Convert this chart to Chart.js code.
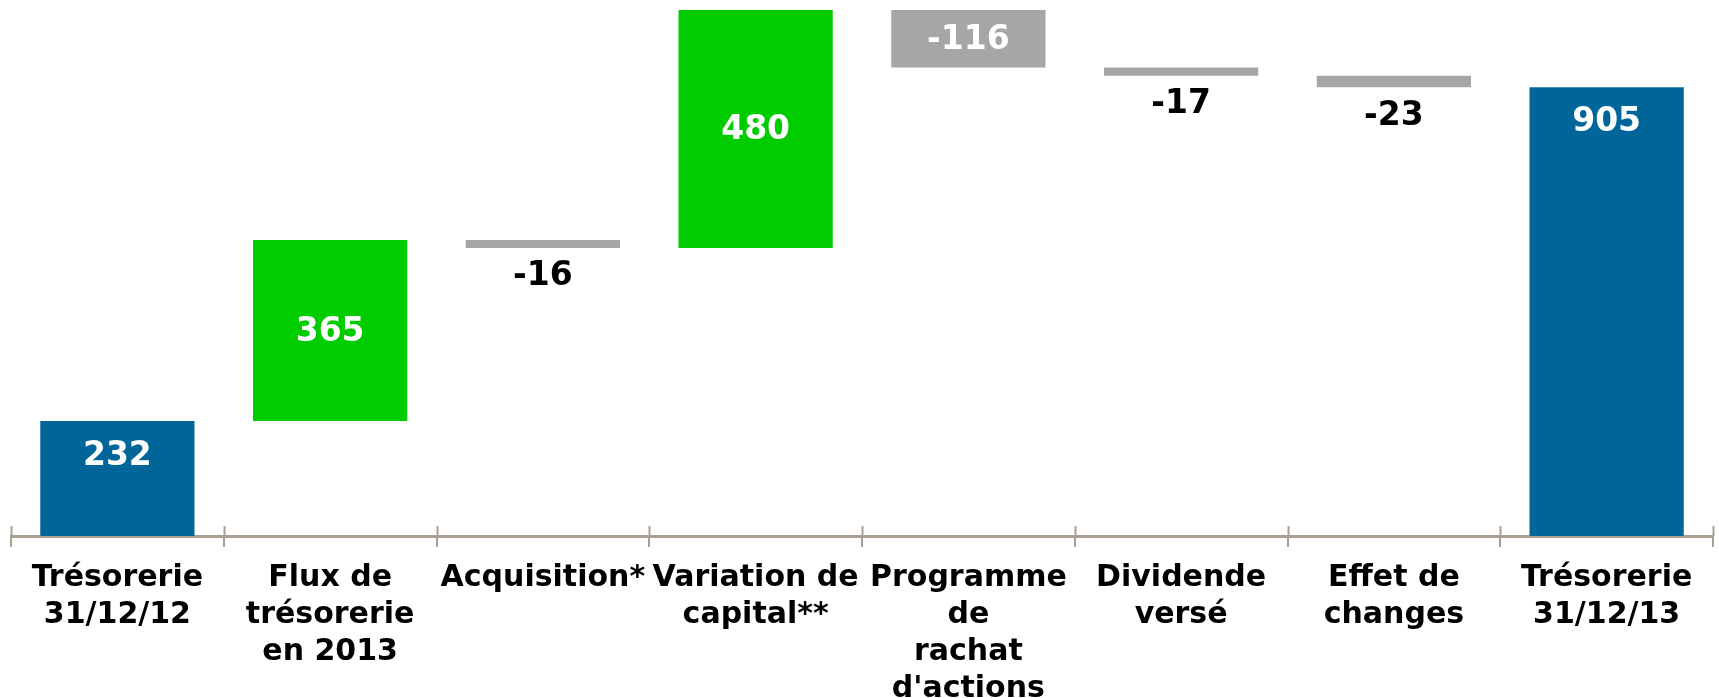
<!DOCTYPE html>
<html>
<head>
<meta charset="utf-8">
<script src="https://cdn.jsdelivr.net/npm/chart.js@4.4.1/dist/chart.umd.min.js"></script>
<style>
  html, body { margin: 0; padding: 0; background: #fff; overflow: hidden; }
  #wrap { width: 1719px; height: 698px; position: relative; }
</style>
</head>
<body>
<div id="wrap"><canvas id="chart"></canvas></div>
<script>
// Données du graphique (en millions)
const categories = [
    ['Trésorerie', '31/12/12'],
    ['Flux de', 'trésorerie', 'en 2013'],
    ['Acquisition*'],
    ['Variation de', 'capital**'],
    ['Programme', 'de', 'rachat', "d'actions"],
    ['Dividende', 'versé'],
    ['Effet de', 'changes'],
    ['Trésorerie', '31/12/13']
];
const changes = [232, 365, -16, 480, -116, -17, -23, 905];
const isTotal = [true, false, false, false, false, false, false, true];

const COLOR_TOTAL = '#006699';
const COLOR_UP = '#00CC00';
const COLOR_DOWN = '#A6A6A6';
const AXIS_COLOR = '#A89E92';

// Construire les barres flottantes
let running = 0;
const ranges = [];
const colors = [];
changes.forEach((v, i) => {
    if (isTotal[i]) {
        ranges.push([0, v]);
        running = v;
        colors.push(COLOR_TOTAL);
    } else {
        ranges.push([running, running + v]);
        running += v;
        colors.push(v >= 0 ? COLOR_UP : COLOR_DOWN);
    }
});

// Plugin: étiquettes de valeurs + petites marques au-dessus de l'axe
const waterfallLabels = {
    id: 'waterfallLabels',
    afterDatasetsDraw(chart) {
        const ctx = chart.ctx;
        const meta = chart.getDatasetMeta(0);
        ctx.save();
        ctx.font = 'bold 33px "DejaVu Sans"';
        ctx.textAlign = 'center';
        ctx.textBaseline = 'middle';
        meta.data.forEach((bar, i) => {
            const top = Math.min(bar.y, bar.base);
            const bottom = Math.max(bar.y, bar.base);
            const h = bottom - top;
            let y, color;
            if (isTotal[i]) {
                y = top + 35;
                color = '#fff';
            } else if (h > 40) {
                y = (top + bottom) / 2 + 2;
                color = '#fff';
            } else {
                y = bottom + 29;
                color = '#000';
            }
            ctx.fillStyle = color;
            ctx.fillText(String(changes[i]), bar.x, y);
        });
        ctx.restore();
    },
    afterDraw(chart) {
        const ctx = chart.ctx;
        const xs = chart.scales.x;
        const n = categories.length;
        const step = (xs.right - xs.left) / n;
        ctx.save();
        ctx.strokeStyle = AXIS_COLOR;
        ctx.lineWidth = 2;
        for (let i = 0; i <= n; i++) {
            const x = Math.round(xs.left + i * step) + 0.5;
            ctx.beginPath();
            ctx.moveTo(x, xs.top - 10);
            ctx.lineTo(x, xs.top);
            ctx.stroke();
        }
        ctx.restore();
    }
};

new Chart(document.getElementById('chart').getContext('2d'), {
    type: 'bar',
    data: {
        labels: categories,
        datasets: [{
            data: ranges,
            backgroundColor: colors,
            borderWidth: 0,
            categoryPercentage: 1,
            barPercentage: 0.725
        }]
    },
    options: {
        responsive: true,
        maintainAspectRatio: false,
        animation: false,
        layout: {
            padding: { left: 11, right: 6, top: 0, bottom: 0 }
        },
        plugins: {
            legend: { display: false },
            tooltip: { enabled: false }
        },
        scales: {
            x: {
                afterFit(scale) { scale.height = 162; },
                border: { display: true, color: AXIS_COLOR, width: 3 },
                grid: {
                    display: true,
                    drawOnChartArea: false,
                    drawTicks: true,
                    tickLength: 11,
                    color: AXIS_COLOR,
                    lineWidth: 2,
                    offset: true
                },
                ticks: {
                    autoSkip: false,
                    maxRotation: 0,
                    minRotation: 0,
                    padding: 13,
                    color: '#000',
                    font: { family: 'DejaVu Sans', weight: 'bold', size: 30, lineHeight: 1.235 }
                }
            },
            y: {
                display: false,
                min: 0,
                max: 1081
            }
        }
    },
    plugins: [waterfallLabels]
});
</script>
</body>
</html>
